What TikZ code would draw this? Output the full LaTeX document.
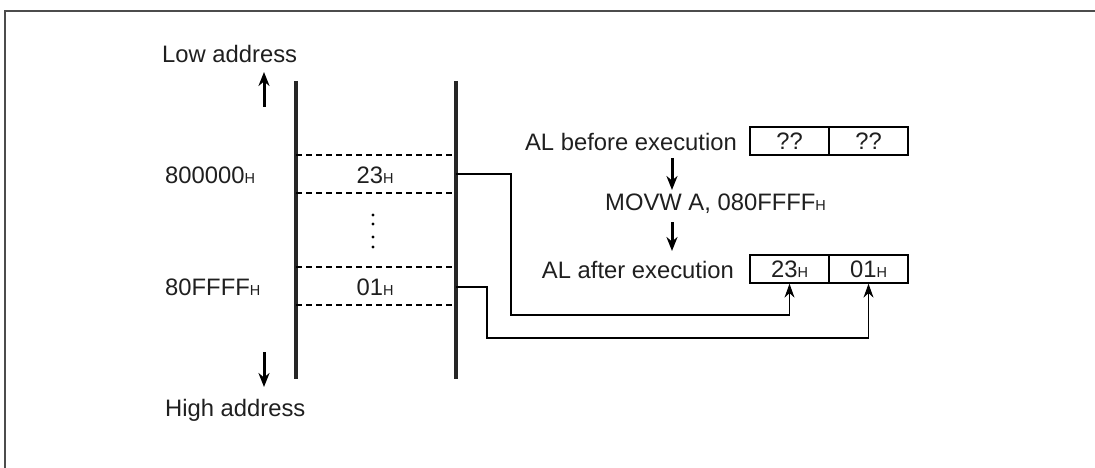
\documentclass[tikz,border=0pt]{standalone}
\usepackage{fontspec}
\setmainfont{Liberation Sans}
\usetikzlibrary{arrows.meta}
\newcommand\hsub{{\fontsize{14.5}{14.5}\selectfont H}}
\begin{document}
\begin{tikzpicture}[x=1pt,y=-1pt,
  lbl/.style={inner sep=0pt,text=black!88,font=\fontsize{23.8}{27}\selectfont},
  cell/.style={draw,line width=1.3pt,minimum width=79pt,minimum height=28pt,inner sep=0pt,text height=16.5pt,text depth=0pt,text=black!88,font=\fontsize{23.8}{27}\selectfont},
  memline/.style={line width=3.2pt,color=black!85},
  dashline/.style={line width=1.3pt,dash pattern=on 6pt off 4pt},
  bigarrow/.style={line width=3pt,-{Stealth[length=14pt,width=11pt]}},
  conn/.style={line width=1.3pt,-{Stealth[length=14pt,width=10pt]}}]
\useasboundingbox (0,0) rectangle (1095,468);
% frame
\draw[line width=1.6pt,black!70] (5,468) -- (5,11) -- (1095,11);
% memory columns
\coordinate (lt) at (296,81); \coordinate (lb) at (296,379);
\coordinate (rt) at (456,81); \coordinate (rb) at (456,379);
\draw[memline] (lt) -- (lb);
\draw[memline] (rt) -- (rb);
\coordinate (d1l) at (296,155); \coordinate (d1r) at (452,155);
\coordinate (d2l) at (296,193); \coordinate (d2r) at (452,193);
\coordinate (d3l) at (296,267); \coordinate (d3r) at (452,267);
\coordinate (d4l) at (296,305); \coordinate (d4r) at (452,305);
\draw[dashline] (d1l) -- (d1r);
\draw[dashline] (d2l) -- (d2r);
\draw[dashline] (d3l) -- (d3r);
\draw[dashline] (d4l) -- (d4r);
\foreach \yy in {215,224,237,247} \fill (373,\yy) circle (1.7pt);
% left labels
\node[lbl,anchor=base west] (low) at (162,63) {Low address};
\node[lbl,anchor=base west] (high) at (165,416) {High address};
\coordinate (ua1) at (264,107); \coordinate (ua2) at (264,72);
\coordinate (da1) at (264,352); \coordinate (da2) at (264,387);
\draw[bigarrow] (ua1) -- (ua2);
\draw[bigarrow] (da1) -- (da2);
\node[lbl,anchor=base west] (a800) at (165,183) {800000\hsub};
\node[lbl,anchor=base west] (a80f) at (165,295) {80FFFF\hsub};
\node[lbl,anchor=base] (v23) at (375,183) {23\hsub};
\node[lbl,anchor=base] (v01) at (375,295) {01\hsub};
% right side
\node[lbl,anchor=base east] (before) at (737,150) {AL before execution};
\node[cell] (b1) at (789.5,141) {??};
\node[cell] (b2) at (868.5,141) {??};
\node[lbl,anchor=base west] (movw) at (605,210) {MOVW A, 080FFFF\hsub};
\node[lbl,anchor=base east] (after) at (734,278) {AL after execution};
\node[cell] (c1) at (789.5,269) {23\hsub};
\node[cell] (c2) at (868.5,269) {01\hsub};
\coordinate (ma1) at (672,158); \coordinate (ma2) at (672,190);
\coordinate (mb1) at (672,222); \coordinate (mb2) at (672,251);
\draw[bigarrow] (ma1) -- (ma2);
\draw[bigarrow] (mb1) -- (mb2);
% connectors
\coordinate (m23) at (456,174);
\coordinate (m01) at (456,287);
\draw[conn] (m23) -| (511,315) -| (c1.south);
\draw[conn] (m01) -| (487,338) -| (c2.south);
\end{tikzpicture}
\end{document}
